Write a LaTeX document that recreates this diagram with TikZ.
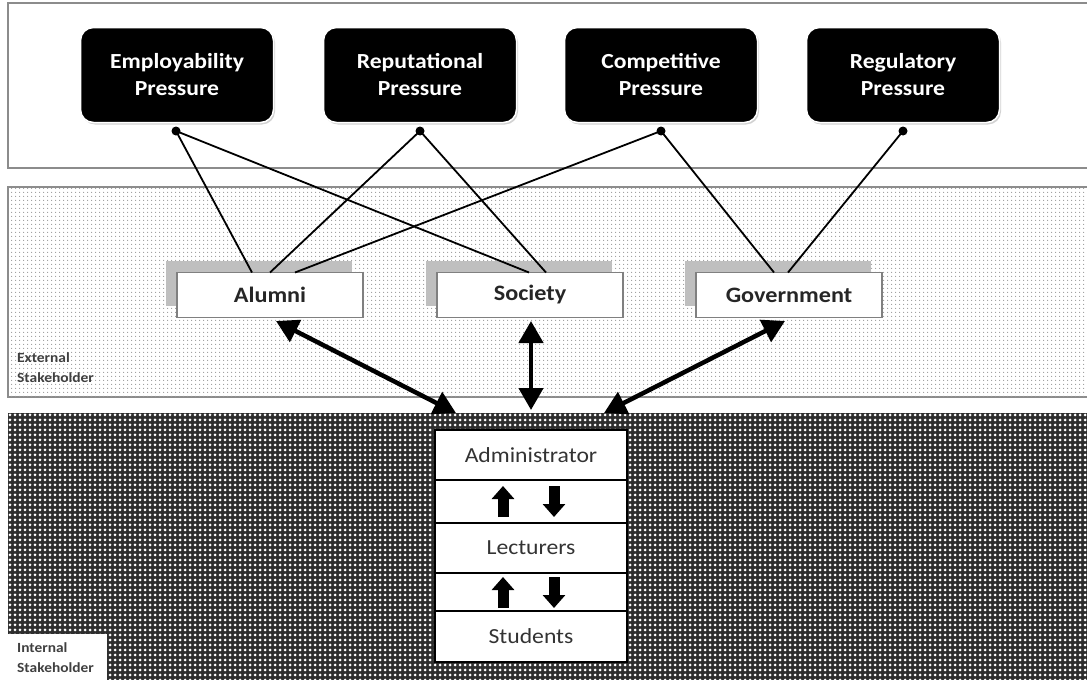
\documentclass[tikz,border=0pt]{standalone}
\usepackage{fontspec}
\setmainfont{Carlito}[FakeStretch=1.1]
\usetikzlibrary{arrows.meta,patterns.meta,shadows}
\begin{document}
\begin{tikzpicture}[x=1pt,y=-1pt,
  panel/.style={draw=black!45, line width=1.2pt},
  pressure/.style={rounded corners=13pt, fill=black, draw=white, line width=1.5pt,
    minimum width=193pt, minimum height=95pt, text=white, align=center,
    font=\fontsize{21.5}{27}\selectfont\bfseries,
    drop shadow={shadow xshift=1.5pt, shadow yshift=-2pt, opacity=0.35}},
  stake/.style={draw=black!50, line width=1.2pt, fill=white, minimum width=186pt,
    minimum height=45pt, text=black!85, font=\fontsize{22}{24}\selectfont\bfseries,
    general shadow={fill=black!25, draw=none, shadow xshift=-11pt, shadow yshift=12pt}},
  layer/.style={draw=black, line width=1.8pt, fill=white, minimum width=192pt,
    inner sep=0pt, text=black!80, font=\fontsize{21.5}{24}\selectfont},
  link/.style={line width=1.8pt, black},
  pin/.style={circle, fill=black, inner sep=0pt, minimum size=9pt},
  bigarrow/.style={line width=4.5pt, {Triangle[length=22pt,width=24pt]}-{Triangle[length=22pt,width=24pt]}},
  blockarrow/.style={line width=11pt, line cap=butt, -{Triangle[length=13pt,width=22pt]}},
  tag/.style={anchor=north west, align=left, inner sep=0pt, text=black!75,
    font=\fontsize{14}{20}\selectfont\bfseries}
]
\useasboundingbox (0,0) rectangle (1087,680);

% panels
\draw[panel, fill=white] (8,3) rectangle (1095,168);
\draw[panel, fill=white] (8,187) rectangle (1095,397);
\fill[pattern={Dots[distance=4pt,radius=0.75pt]}, pattern color=black!40] (9,188) rectangle (1095,396);
\fill[black!82] (8,413) rectangle (1095,690);
\fill[pattern={Dots[distance=5pt,radius=1.5pt]}, pattern color=white] (8,413) rectangle (1095,690);
\fill[white] (0,634) rectangle (107,690);

% labels
\node[tag] (ext) at (17,352) {External\\Stakeholder};
\node[tag] (int) at (17,642) {Internal\\Stakeholder};

% pressures
\node[pressure] (emp) at (177,75) {Employability\\Pressure};
\node[pressure] (rep) at (420,75) {Reputational\\Pressure};
\node[pressure] (com) at (661,75) {Competitive\\Pressure};
\node[pressure] (reg) at (903,75) {Regulatory\\Pressure};

\node[pin] (ep) at (176,131) {};
\node[pin] (rp) at (420,131) {};
\node[pin] (cp) at (661,131) {};
\node[pin] (gp) at (903,131) {};

% stakeholders
\node[stake] (alu) at (270,295) {Alumni};
\node[stake] (soc) at (530,295) {Society};
\node[stake] (gov) at (789,295) {Government};

\coordinate (a1) at (252,272.5);
\coordinate (a2) at (270,272.5);
\coordinate (a3) at (295,272.5);
\coordinate (s1) at (529,272.5);
\coordinate (s2) at (546,272.5);
\coordinate (g1) at (774,272.5);
\coordinate (g2) at (788,272.5);

\draw[link] (ep.center) -- (a1);
\draw[link] (ep.center) -- (s1);
\draw[link] (rp.center) -- (a2);
\draw[link] (rp.center) -- (s2);
\draw[link] (cp.center) -- (a3);
\draw[link] (cp.center) -- (g1);
\draw[link] (gp.center) -- (g2);

% internal stack
\node[layer, minimum height=50pt] (adm) at (531,455) {Administrator};
\node[layer, minimum height=43pt] (st1) at (531,501.5) {};
\node[layer, minimum height=50pt] (lec) at (531,548) {Lecturers};
\node[layer, minimum height=38pt] (st2) at (531,592) {};
\node[layer, minimum height=51pt] (stu) at (531,636.5) {Students};

% thick double arrows
\coordinate (at) at (276,321);
\coordinate (ab) at (456,413);
\coordinate (st) at (531,321);
\coordinate (sb) at (531,410);
\coordinate (gt) at (785,321);
\coordinate (gb) at (604,413);
\draw[bigarrow] (at) -- (ab);
\draw[bigarrow] (st) -- (sb);
\draw[bigarrow] (gt) -- (gb);

% small block arrows
\coordinate (u1b) at (503,517);
\coordinate (u1t) at (503,486);
\coordinate (d1t) at (554,486);
\coordinate (d1b) at (554,517);
\coordinate (u2b) at (503,608);
\coordinate (u2t) at (503,577);
\coordinate (d2t) at (554,577);
\coordinate (d2b) at (554,608);
\draw[blockarrow] (u1b) -- (u1t);
\draw[blockarrow] (d1t) -- (d1b);
\draw[blockarrow] (u2b) -- (u2t);
\draw[blockarrow] (d2t) -- (d2b);
\end{tikzpicture}
\end{document}
